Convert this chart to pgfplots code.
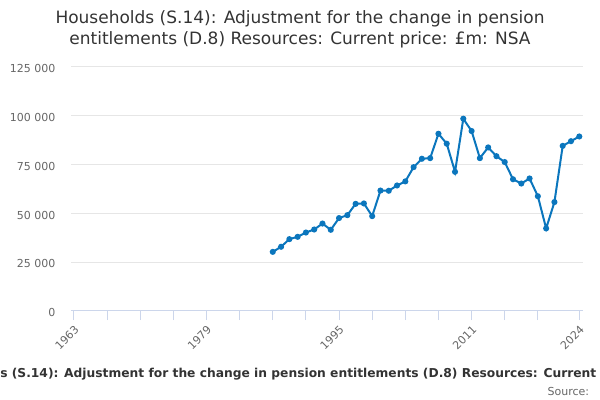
\documentclass[border=0pt]{standalone}
\usepackage{pgfplots}
\pgfplotsset{compat=1.18}
\usepackage{fontspec}
\setmainfont{DejaVu Sans}
\definecolor{linec}{HTML}{0B76BD}
\definecolor{titlec}{HTML}{333333}
\definecolor{tickc}{HTML}{666666}
\definecolor{gridc}{HTML}{E6E6E6}
\definecolor{axisc}{HTML}{CCD6EB}
\begin{document}
\begin{tikzpicture}
\path[use as bounding box] (0,0) rectangle (450pt,300pt);
\begin{axis}[
  at={(53.25pt,66.75pt)}, anchor=south west,
  scale only axis, width=384pt, height=183pt,
  xmin=1962.64, xmax=2024.45, ymin=0, ymax=125000,
  axis x line*=bottom, axis y line*=left,
  y axis line style={draw=none},
  x axis line style={draw=axisc, line width=0.75pt, -},
  ymajorgrids, grid style={draw=gridc, line width=0.75pt},
  scaled y ticks=false,
  ytick={0,25000,50000,75000,100000,125000},
  yticklabels={0,25 000,50 000,75 000,100 000,125 000},
  ytick style={draw=none},
  yticklabel style={font=\fontsize{8.25pt}{10pt}\selectfont, text=tickc, xshift=-1.5pt, yshift=-1.2pt},
  xtick={1963,1979,1995,2011,2024},
  xticklabels={1963,1979,1995,2011,2024},
  minor xtick={1967,1971,1975,1983,1987,1991,1999,2003,2007,2015,2019},
  xtick style={draw=axisc, line width=0.75pt},
  minor x tick style={draw=axisc, line width=0.75pt},
  tick align=outside, major tick length=6.75pt, minor tick length=6.75pt,
  xticklabel style={font=\fontsize{8.25pt}{10pt}\selectfont, text=tickc, rotate=45, anchor=east, yshift=-5.5pt, xshift=1pt},
  clip=false,
]
\addplot[color=linec, line width=1.5pt, mark=*, mark size=1.5pt, mark options={fill=linec, draw=linec}] coordinates {
(1987,30300) (1988,32900) (1989,36800) (1990,38000) (1991,40200) (1992,41750)
(1993,44800) (1994,41600) (1995,47600) (1996,49100) (1997,54900) (1998,55100)
(1999,48600) (2000,61700) (2001,61600) (2002,64300) (2003,66400) (2004,73700)
(2005,78000) (2006,78300) (2007,90800) (2008,85700) (2009,71300) (2010,98500)
(2011,92200) (2012,78300) (2013,83800) (2014,79300) (2015,76300) (2016,67500)
(2017,65300) (2018,67900) (2019,58800) (2020,42300) (2021,55800) (2022,84600)
(2023,87000) (2024,89400)
};
\end{axis}
\node[anchor=base, inner sep=0, font=\fontsize{12.75pt}{15pt}\selectfont, text=titlec] at (225pt,282pt) {Households (S.14): Adjustment for the change in pension};
\node[anchor=base, inner sep=0, font=\fontsize{12.75pt}{15pt}\selectfont, text=titlec] at (225pt,266.25pt) {entitlements (D.8) Resources: Current price: £m: NSA};
\node[anchor=base west, inner sep=0, font=\fontsize{9.2pt}{11pt}\selectfont\bfseries, text=titlec] at (0pt,16.5pt) {\llap{Household}s (S.14): Adjustment for the change in pension entitlements (D.8) Resources: Current\rlap{ price: £m: NSA}};
\node[anchor=base east, inner sep=0, font=\fontsize{8.25pt}{10pt}\selectfont, text=tickc] at (442pt,3.75pt) {Source:};
\end{tikzpicture}
\end{document}
